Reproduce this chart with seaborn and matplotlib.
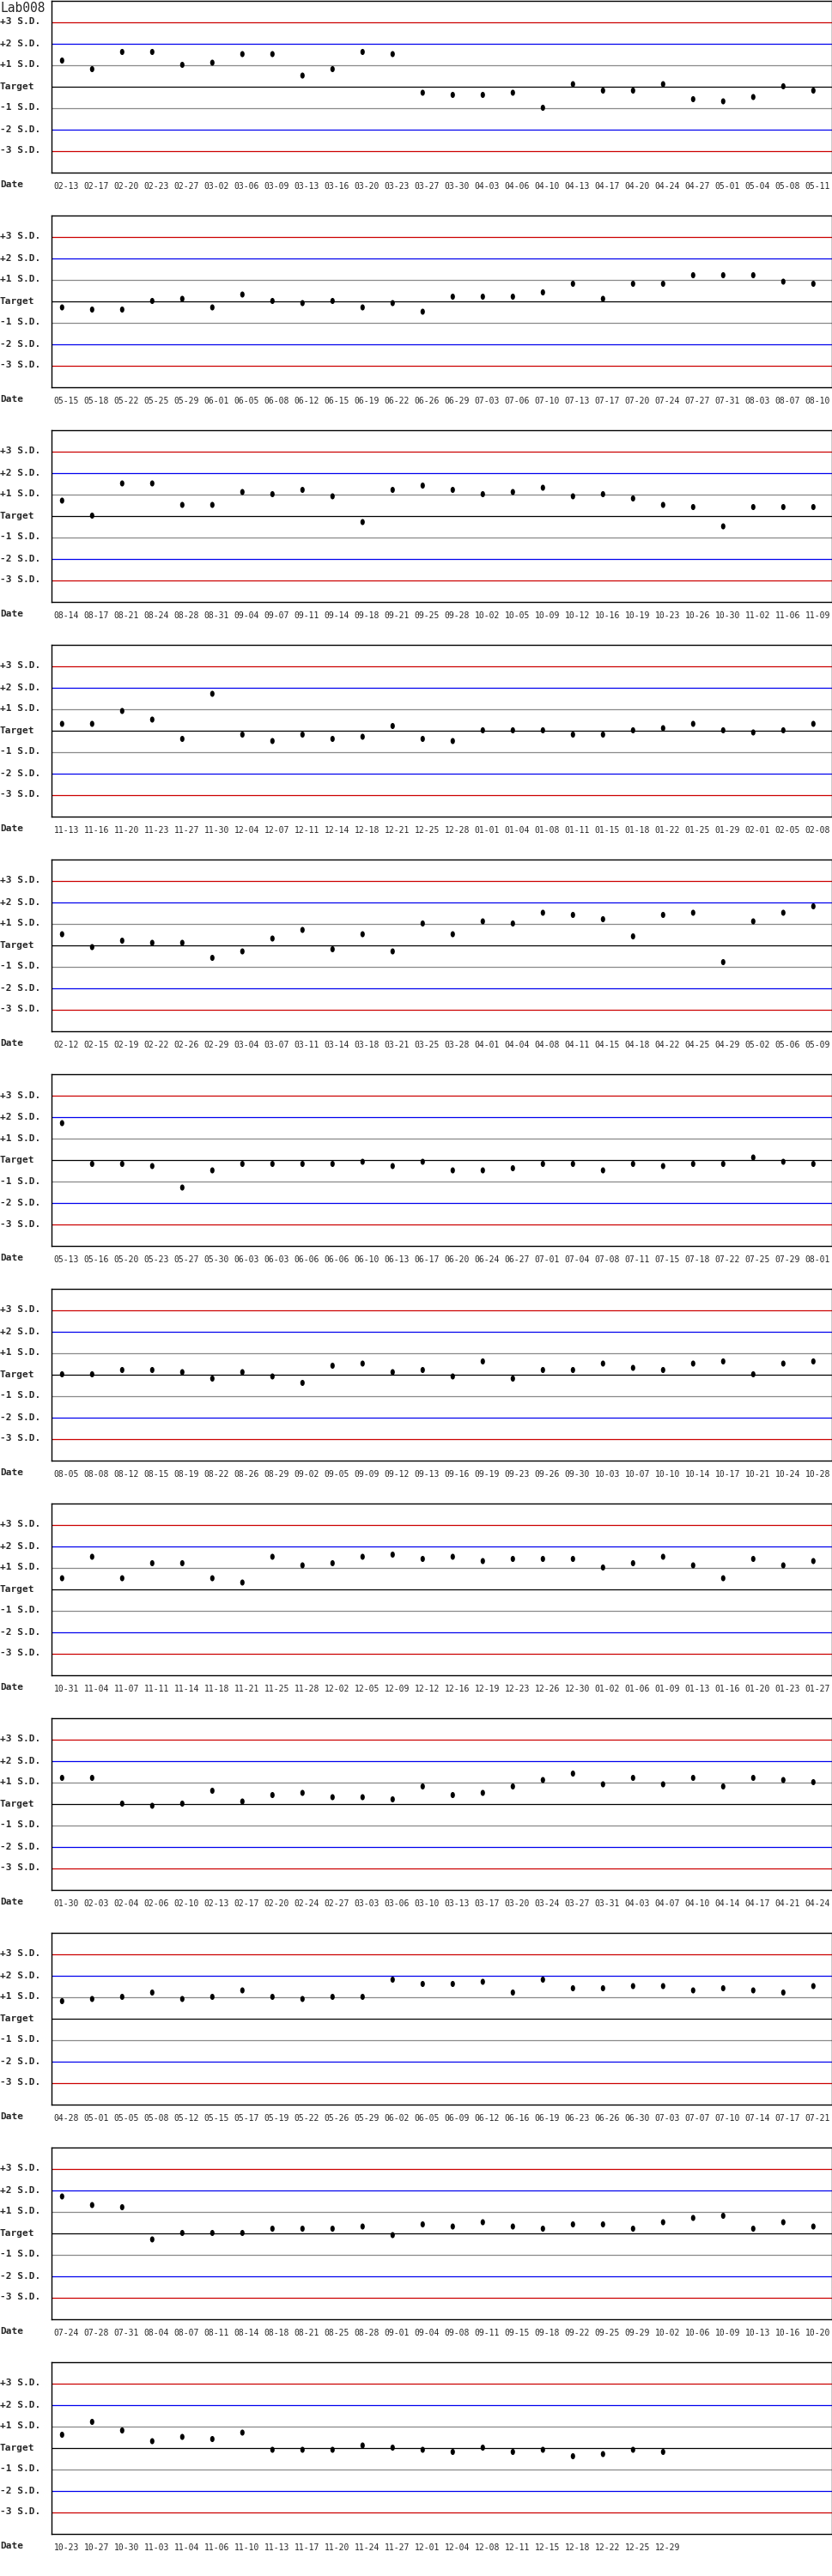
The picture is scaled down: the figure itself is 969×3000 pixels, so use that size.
import matplotlib
matplotlib.use("Agg")
import matplotlib.pyplot as plt
import seaborn as sns
import pandas as pd
from matplotlib.path import Path
from matplotlib.markers import MarkerStyle
from matplotlib.transforms import Affine2D

# ---------------- data ----------------
chart_title = "Lab008"
sd_levels = [3, 2, 1, 0, -1, -2, -3]
sd_labels = ["+3 S.D.", "+2 S.D.", "+1 S.D.", "Target", "-1 S.D.", "-2 S.D.", "-3 S.D."]
x_axis_label = "Date"

dates_p1 = ["02-13", "02-17", "02-20", "02-23", "02-27", "03-02", "03-06", "03-09", "03-13", "03-16", "03-20", "03-23", "03-27",
            "03-30", "04-03", "04-06", "04-10", "04-13", "04-17", "04-20", "04-24", "04-27", "05-01", "05-04", "05-08", "05-11"]
values_p1 = [1.2, 0.8, 1.6, 1.6, 1.0, 1.1, 1.5, 1.5, 0.5, 0.8, 1.6, 1.5, -0.3,
             -0.4, -0.4, -0.3, -1.0, 0.1, -0.2, -0.2, 0.1, -0.6, -0.7, -0.5, 0.0, -0.2]

dates_p2 = ["05-15", "05-18", "05-22", "05-25", "05-29", "06-01", "06-05", "06-08", "06-12", "06-15", "06-19", "06-22", "06-26",
            "06-29", "07-03", "07-06", "07-10", "07-13", "07-17", "07-20", "07-24", "07-27", "07-31", "08-03", "08-07", "08-10"]
values_p2 = [-0.3, -0.4, -0.4, 0.0, 0.1, -0.3, 0.3, 0.0, -0.1, 0.0, -0.3, -0.1, -0.5,
             0.2, 0.2, 0.2, 0.4, 0.8, 0.1, 0.8, 0.8, 1.2, 1.2, 1.2, 0.9, 0.8]

dates_p3 = ["08-14", "08-17", "08-21", "08-24", "08-28", "08-31", "09-04", "09-07", "09-11", "09-14", "09-18", "09-21", "09-25",
            "09-28", "10-02", "10-05", "10-09", "10-12", "10-16", "10-19", "10-23", "10-26", "10-30", "11-02", "11-06", "11-09"]
values_p3 = [0.7, 0.0, 1.5, 1.5, 0.5, 0.5, 1.1, 1.0, 1.2, 0.9, -0.3, 1.2, 1.4,
             1.2, 1.0, 1.1, 1.3, 0.9, 1.0, 0.8, 0.5, 0.4, -0.5, 0.4, 0.4, 0.4]

dates_p4 = ["11-13", "11-16", "11-20", "11-23", "11-27", "11-30", "12-04", "12-07", "12-11", "12-14", "12-18", "12-21", "12-25",
            "12-28", "01-01", "01-04", "01-08", "01-11", "01-15", "01-18", "01-22", "01-25", "01-29", "02-01", "02-05", "02-08"]
values_p4 = [0.3, 0.3, 0.9, 0.5, -0.4, 1.7, -0.2, -0.5, -0.2, -0.4, -0.3, 0.2, -0.4,
             -0.5, 0.0, 0.0, 0.0, -0.2, -0.2, 0.0, 0.1, 0.3, 0.0, -0.1, 0.0, 0.3]

dates_p5 = ["02-12", "02-15", "02-19", "02-22", "02-26", "02-29", "03-04", "03-07", "03-11", "03-14", "03-18", "03-21", "03-25",
            "03-28", "04-01", "04-04", "04-08", "04-11", "04-15", "04-18", "04-22", "04-25", "04-29", "05-02", "05-06", "05-09"]
values_p5 = [0.5, -0.1, 0.2, 0.1, 0.1, -0.6, -0.3, 0.3, 0.7, -0.2, 0.5, -0.3, 1.0,
             0.5, 1.1, 1.0, 1.5, 1.4, 1.2, 0.4, 1.4, 1.5, -0.8, 1.1, 1.5, 1.8]

dates_p6 = ["05-13", "05-16", "05-20", "05-23", "05-27", "05-30", "06-03", "06-03", "06-06", "06-06", "06-10", "06-13", "06-17",
            "06-20", "06-24", "06-27", "07-01", "07-04", "07-08", "07-11", "07-15", "07-18", "07-22", "07-25", "07-29", "08-01"]
values_p6 = [1.7, -0.2, -0.2, -0.3, -1.3, -0.5, -0.2, -0.2, -0.2, -0.2, -0.1, -0.3, -0.1,
             -0.5, -0.5, -0.4, -0.2, -0.2, -0.5, -0.2, -0.3, -0.2, -0.2, 0.1, -0.1, -0.2]

dates_p7 = ["08-05", "08-08", "08-12", "08-15", "08-19", "08-22", "08-26", "08-29", "09-02", "09-05", "09-09", "09-12", "09-13",
            "09-16", "09-19", "09-23", "09-26", "09-30", "10-03", "10-07", "10-10", "10-14", "10-17", "10-21", "10-24", "10-28"]
values_p7 = [0.0, 0.0, 0.2, 0.2, 0.1, -0.2, 0.1, -0.1, -0.4, 0.4, 0.5, 0.1, 0.2,
             -0.1, 0.6, -0.2, 0.2, 0.2, 0.5, 0.3, 0.2, 0.5, 0.6, 0.0, 0.5, 0.6]

dates_p8 = ["10-31", "11-04", "11-07", "11-11", "11-14", "11-18", "11-21", "11-25", "11-28", "12-02", "12-05", "12-09", "12-12",
            "12-16", "12-19", "12-23", "12-26", "12-30", "01-02", "01-06", "01-09", "01-13", "01-16", "01-20", "01-23", "01-27"]
values_p8 = [0.5, 1.5, 0.5, 1.2, 1.2, 0.5, 0.3, 1.5, 1.1, 1.2, 1.5, 1.6, 1.4,
             1.5, 1.3, 1.4, 1.4, 1.4, 1.0, 1.2, 1.5, 1.1, 0.5, 1.4, 1.1, 1.3]

dates_p9 = ["01-30", "02-03", "02-04", "02-06", "02-10", "02-13", "02-17", "02-20", "02-24", "02-27", "03-03", "03-06", "03-10",
            "03-13", "03-17", "03-20", "03-24", "03-27", "03-31", "04-03", "04-07", "04-10", "04-14", "04-17", "04-21", "04-24"]
values_p9 = [1.2, 1.2, 0.0, -0.1, 0.0, 0.6, 0.1, 0.4, 0.5, 0.3, 0.3, 0.2, 0.8,
             0.4, 0.5, 0.8, 1.1, 1.4, 0.9, 1.2, 0.9, 1.2, 0.8, 1.2, 1.1, 1.0]

dates_p10 = ["04-28", "05-01", "05-05", "05-08", "05-12", "05-15", "05-17", "05-19", "05-22", "05-26", "05-29", "06-02", "06-05",
             "06-09", "06-12", "06-16", "06-19", "06-23", "06-26", "06-30", "07-03", "07-07", "07-10", "07-14", "07-17", "07-21"]
values_p10 = [0.8, 0.9, 1.0, 1.2, 0.9, 1.0, 1.3, 1.0, 0.9, 1.0, 1.0, 1.8, 1.6,
              1.6, 1.7, 1.2, 1.8, 1.4, 1.4, 1.5, 1.5, 1.3, 1.4, 1.3, 1.2, 1.5]

dates_p11 = ["07-24", "07-28", "07-31", "08-04", "08-07", "08-11", "08-14", "08-18", "08-21", "08-25", "08-28", "09-01", "09-04",
             "09-08", "09-11", "09-15", "09-18", "09-22", "09-25", "09-29", "10-02", "10-06", "10-09", "10-13", "10-16", "10-20"]
values_p11 = [1.7, 1.3, 1.2, -0.3, 0.0, 0.0, 0.0, 0.2, 0.2, 0.2, 0.3, -0.1, 0.4,
              0.3, 0.5, 0.3, 0.2, 0.4, 0.4, 0.2, 0.5, 0.7, 0.8, 0.2, 0.5, 0.3]

dates_p12 = ["10-23", "10-27", "10-30", "11-03", "11-04", "11-06", "11-10", "11-13", "11-17", "11-20", "11-24", "11-27", "12-01",
             "12-04", "12-08", "12-11", "12-15", "12-18", "12-22", "12-25", "12-29"]
values_p12 = [0.6, 1.2, 0.8, 0.3, 0.5, 0.4, 0.7, -0.1, -0.1, -0.1, 0.1, 0.0, -0.1,
              -0.2, 0.0, -0.2, -0.1, -0.4, -0.3, -0.1, -0.2]

panel_dates = [dates_p1, dates_p2, dates_p3, dates_p4, dates_p5, dates_p6,
               dates_p7, dates_p8, dates_p9, dates_p10, dates_p11, dates_p12]
panel_values = [values_p1, values_p2, values_p3, values_p4, values_p5, values_p6,
                values_p7, values_p8, values_p9, values_p10, values_p11, values_p12]

# ---------------- style ----------------
sns.set_style("white")
plt.rcParams['font.family'] = ['DejaVu Sans Mono', 'DejaVu Sans']

line_colors = {3: "#cc0000", 2: "#0000ee", 1: "#888888", 0: "#000000",
               -1: "#888888", -2: "#0000ee", -3: "#cc0000"}

W, H, DPI = 970, 3000, 100
fig = plt.figure(figsize=(W / DPI, H / DPI), dpi=DPI)
fig.patch.set_facecolor("white")

ellipse = MarkerStyle(Path.unit_circle().transformed(Affine2D().scale(0.72, 1.0)))

AX_LEFT, AX_RIGHT = 60, 969
PANEL_PITCH, AX_H = 250, 200
SLOT = 35.0
FIRST_X = 72.3
SLOTS = 26

for k, (dates, vals) in enumerate(zip(panel_dates, panel_values)):
    top = PANEL_PITCH * k + 0.5
    ax = fig.add_axes([AX_LEFT / W, 1 - (top + AX_H) / H, (AX_RIGHT - AX_LEFT) / W, AX_H / H])
    ax.set_facecolor("white")
    for lvl in sd_levels:
        ax.axhline(lvl, color=line_colors[lvl], lw=0.9, zorder=1)
    df = pd.DataFrame({"idx": list(range(len(vals))), "sd": vals})
    sns.scatterplot(data=df, x="idx", y="sd", marker=ellipse, s=26, color="black",
                    edgecolor="none", linewidth=0, ax=ax, zorder=3, legend=False)
    ax.set_xlim(-(FIRST_X - AX_LEFT) / SLOT, (AX_RIGHT - FIRST_X) / SLOT)
    ax.set_ylim(-4, 4)
    ax.set_xticks([i + 0.15 for i in range(len(dates))])
    ax.set_xticklabels(dates, fontsize=7, fontweight="normal")
    ax.set_yticks(sd_levels)
    ax.set_yticklabels(sd_labels, fontsize=8, fontweight="bold", ha="left", va="center")
    ax.tick_params(axis="x", length=0, pad=8)
    ax.tick_params(axis="y", length=0, pad=AX_LEFT * 72 / DPI)
    ax.set_xlabel("")
    ax.set_ylabel("")
    for sp in ax.spines.values():
        sp.set_visible(True)
        sp.set_color("black")
        sp.set_linewidth(1.0)
    fig.text(0, 1 - (PANEL_PITCH * k + 215) / H, x_axis_label, fontsize=8, fontweight="bold",
             ha="left", va="center")

fig.text(0, 1 - 9 / H, chart_title, fontsize=10.5, ha="left", va="center")

fig.savefig("out.png", dpi=DPI, facecolor="white")
